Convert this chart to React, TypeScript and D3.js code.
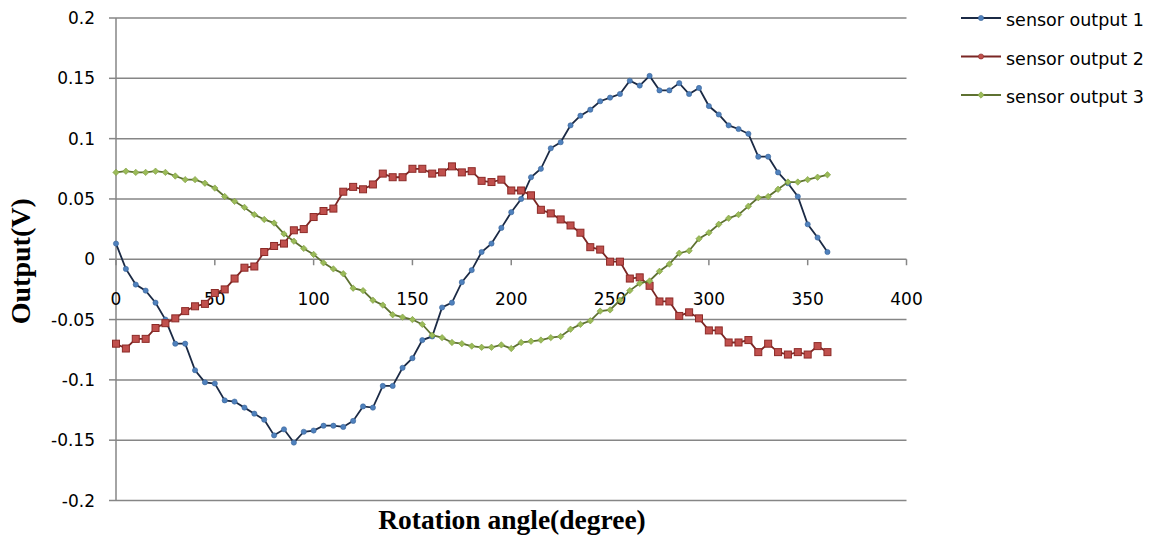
import React from "react";
import * as d3 from "d3";

const angles: number[] = d3.range(0, 361, 5);

const sensor1: number[] = [
  0.013, -0.008, -0.021, -0.026, -0.036, -0.050, -0.070, -0.070, -0.092, -0.102,
  -0.103, -0.117, -0.118, -0.123, -0.128, -0.133, -0.146, -0.141, -0.152, -0.143,
  -0.142, -0.138, -0.138, -0.139, -0.134, -0.122, -0.123, -0.105, -0.105, -0.090,
  -0.082, -0.067, -0.064, -0.040, -0.036, -0.019, -0.009, 0.006, 0.013, 0.026,
  0.039, 0.050, 0.068, 0.075, 0.092, 0.097, 0.111, 0.119, 0.124, 0.131,
  0.134, 0.137, 0.148, 0.144, 0.152, 0.140, 0.140, 0.146, 0.137, 0.142,
  0.127, 0.120, 0.111, 0.108, 0.104, 0.085, 0.085, 0.072, 0.063, 0.052,
  0.029, 0.018, 0.006,
];

const sensor2: number[] = [
  -0.070, -0.074, -0.066, -0.066, -0.057, -0.053, -0.049, -0.043, -0.039, -0.037,
  -0.028, -0.025, -0.016, -0.007, -0.006, 0.006, 0.011, 0.013, 0.024, 0.025,
  0.035, 0.040, 0.042, 0.056, 0.060, 0.058, 0.062, 0.071, 0.068, 0.068,
  0.075, 0.075, 0.071, 0.072, 0.077, 0.072, 0.073, 0.065, 0.064, 0.066,
  0.057, 0.057, 0.053, 0.041, 0.038, 0.033, 0.028, 0.022, 0.010, 0.008,
  -0.002, -0.002, -0.016, -0.015, -0.022, -0.035, -0.035, -0.047, -0.044, -0.049,
  -0.059, -0.059, -0.069, -0.069, -0.067, -0.077, -0.070, -0.077, -0.079, -0.077,
  -0.079, -0.072, -0.077,
];

const sensor3: number[] = [
  0.072, 0.073, 0.072, 0.072, 0.073, 0.072, 0.069, 0.066, 0.066, 0.063,
  0.059, 0.052, 0.048, 0.043, 0.037, 0.033, 0.030, 0.021, 0.015, 0.009,
  0.004, -0.003, -0.008, -0.012, -0.024, -0.026, -0.034, -0.038, -0.046, -0.048,
  -0.050, -0.054, -0.063, -0.065, -0.069, -0.070, -0.072, -0.073, -0.073, -0.071,
  -0.074, -0.069, -0.068, -0.067, -0.065, -0.064, -0.058, -0.054, -0.051, -0.043,
  -0.042, -0.034, -0.026, -0.020, -0.018, -0.010, -0.004, 0.005, 0.007, 0.017,
  0.022, 0.029, 0.034, 0.037, 0.044, 0.051, 0.052, 0.058, 0.064, 0.064,
  0.066, 0.068, 0.070,
];

const seriesNames: string[] = ["sensor output 1", "sensor output 2", "sensor output 3"];
const xTicks: number[] = [0, 50, 100, 150, 200, 250, 300, 350, 400];
const yTicks: number[] = [-0.2, -0.15, -0.1, -0.05, 0, 0.05, 0.1, 0.15, 0.2];
const yTickLabels: string[] = ["-0.2", "-0.15", "-0.1", "-0.05", "0", "0.05", "0.1", "0.15", "0.2"];

const W = 1156;
const H = 540;
const left = 116;
const right = 906.5;
const top = 18;
const bottom = 500.5;

const styles = [
  { line: "#1b2a45", fill: "#4f81bd", stroke: "#3a6598", shape: "circle" },
  { line: "#7a2624", fill: "#c0504d", stroke: "#8c2a27", shape: "square" },
  { line: "#5e7131", fill: "#9bbb59", stroke: "#7a9a3a", shape: "diamond" },
];

export default function App() {
  const x = d3.scaleLinear().domain([0, 400]).range([left, right]);
  const y = d3.scaleLinear().domain([-0.2, 0.2]).range([bottom, top]);
  const data = [sensor1, sensor2, sensor3];
  const line = d3
    .line<number>()
    .x((_, i) => x(angles[i]))
    .y((v) => y(v));

  const marker = (shape: string, cx: number, cy: number, st: any, key: string) => {
    if (shape === "circle")
      return <circle key={key} cx={cx} cy={cy} r={2.6} fill={st.fill} stroke={st.stroke} strokeWidth={0.6} />;
    if (shape === "square")
      return <rect key={key} x={cx - 3.5} y={cy - 3.5} width={7} height={7} fill={st.fill} stroke={st.stroke} strokeWidth={1} />;
    return (
      <path
        key={key}
        d={`M${cx},${cy - 3.2}L${cx + 3.2},${cy}L${cx},${cy + 3.2}L${cx - 3.2},${cy}Z`}
        fill={st.fill}
        stroke={st.stroke}
        strokeWidth={0.6}
      />
    );
  };

  const tickFont = "'DejaVu Sans', 'Noto Sans', sans-serif";
  const titleFont = "'Liberation Serif', 'Times New Roman', serif";

  return (
    <svg width={W} height={H} style={{ position: "absolute", left: 0, top: 0, background: "#fff" }}>
      <rect x={0} y={0} width={W} height={H} fill="#fff" />
      {yTicks.map((t) => (
        <line key={"g" + t} x1={left} x2={right} y1={y(t)} y2={y(t)} stroke="#868686" strokeWidth={1.5} />
      ))}
      <line x1={left} x2={left} y1={top} y2={bottom} stroke="#868686" strokeWidth={1.5} />
      {yTicks.map((t) => (
        <line key={"yt" + t} x1={left - 7} x2={left} y1={y(t)} y2={y(t)} stroke="#868686" strokeWidth={1.5} />
      ))}
      {xTicks.map((t) => (
        <line key={"xt" + t} x1={x(t)} x2={x(t)} y1={y(0)} y2={y(0) + 6} stroke="#868686" strokeWidth={1.5} />
      ))}
      {yTicks.map((t, i) => (
        <text key={"yl" + t} x={95} y={y(t)} dy="0.36em" textAnchor="end" fontFamily={tickFont} fontSize={17} fill="#000">
          {yTickLabels[i]}
        </text>
      ))}
      {xTicks.map((t) => (
        <text key={"xl" + t} x={x(t)} y={y(0) + 46} textAnchor="middle" fontFamily={tickFont} fontSize={17} fill="#000">
          {String(t)}
        </text>
      ))}
      {data.map((s, si) => (
        <g key={"s" + si}>
          <path d={line(s) || ""} fill="none" stroke={styles[si].line} strokeWidth={1.8} />
          {s.map((v, i) => marker(styles[si].shape, x(angles[i]), y(v), styles[si], `m${si}-${i}`))}
        </g>
      ))}
      <text
        x={0}
        y={0}
        transform={`translate(30, ${y(0) + 2}) rotate(-90)`}
        textAnchor="middle"
        fontFamily={titleFont}
        fontWeight="bold"
        fontSize={28}
        fill="#000"
      >
        Output(V)
      </text>
      <text x={512} y={529} textAnchor="middle" fontFamily={titleFont} fontWeight="bold" fontSize={27.5} fill="#000">
        Rotation angle(degree)
      </text>
      {seriesNames.map((n, i) => {
        const ly = 18 + i * 38.5;
        return (
          <g key={"lg" + i}>
            <line x1={961} x2={1001} y1={ly} y2={ly} stroke={styles[i].line} strokeWidth={1.8} />
            {marker(styles[i].shape === "square" ? "circle" : styles[i].shape, 981, ly, styles[i], "lm" + i)}
            <text x={1006} y={ly + 2} dy="0.36em" fontFamily={tickFont} fontSize={17.5} fill="#000">
              {n}
            </text>
          </g>
        );
      })}
    </svg>
  );
}
